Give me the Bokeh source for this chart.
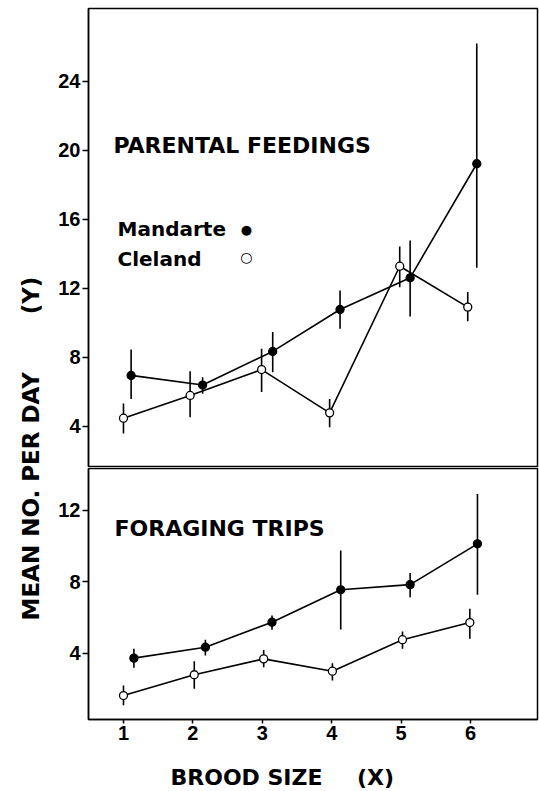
import math
from bokeh.plotting import figure
from bokeh.layouts import row, column
from bokeh.models import Range1d, FixedTicker, Label
from bokeh.embed import file_html
from bokeh.resources import INLINE

# ---------------- data ----------------
brood_ticks = [1, 2, 3, 4, 5, 6]
feed_ticks = [4, 8, 12, 16, 20, 24]
forage_ticks = [4, 8, 12]

# Parental feedings – Mandarte (filled)
feed_m_x = [1.11, 2.14, 3.15, 4.12, 5.13, 6.09]
feed_m = [6.96, 6.40, 8.35, 10.78, 12.62, 19.23]
feed_m_lo = [5.60, 5.90, 7.15, 9.66, 10.38, 13.20]
feed_m_hi = [8.46, 6.86, 9.47, 11.88, 14.78, 26.20]

# Parental feedings – Cleland (open)
feed_c_x = [1.00, 1.96, 2.99, 3.97, 4.98, 5.96]
feed_c = [4.48, 5.80, 7.30, 4.79, 13.29, 10.92]
feed_c_lo = [3.60, 4.54, 6.00, 3.96, 12.07, 10.10]
feed_c_hi = [5.33, 7.20, 8.50, 5.60, 14.43, 11.80]

# Foraging trips – Mandarte (filled)
forage_m_x = [1.15, 2.18, 3.14, 4.13, 5.13, 6.10]
forage_m = [3.74, 4.35, 5.75, 7.56, 7.85, 10.13]
forage_m_lo = [3.20, 3.89, 5.32, 5.34, 7.15, 7.28]
forage_m_hi = [4.26, 4.77, 6.12, 9.75, 8.50, 12.92]

# Foraging trips – Cleland (open)
forage_c_x = [1.00, 2.02, 3.02, 4.01, 5.02, 5.99]
forage_c = [1.65, 2.81, 3.70, 3.01, 4.77, 5.73]
forage_c_lo = [1.10, 2.03, 3.23, 2.49, 4.26, 4.82]
forage_c_hi = [2.21, 3.57, 4.20, 3.46, 5.23, 6.50]

# ---------------- styling ----------------
TITLE_FONT = "DejaVu Sans"
TICK_FONT = "Liberation Sans"
LW = 1.6

x_range = Range1d(0.496, 6.965)


def style_panel(p, yticks):
    p.grid.visible = False
    p.outline_line_color = "black"
    p.outline_line_width = 1.5
    p.background_fill_color = "white"
    p.border_fill_color = "white"
    ax = p.yaxis[0]
    ax.ticker = FixedTicker(ticks=yticks)
    ax.major_tick_out = 6
    ax.major_tick_in = 0
    ax.minor_tick_line_color = None
    ax.axis_line_color = "black"
    ax.axis_line_width = 1.5
    ax.major_tick_line_width = 1.5
    ax.major_label_standoff = 2
    ax.major_label_text_font = TICK_FONT
    ax.major_label_text_font_style = "bold"
    ax.major_label_text_font_size = "20px"
    ax.major_label_text_color = "black"


def draw_series(p, xs, ys, lo, hi, filled):
    p.line(xs, ys, line_color="black", line_width=LW)
    p.segment(x0=xs, y0=lo, x1=xs, y1=hi, line_color="black", line_width=LW)
    p.scatter(xs, ys, size=8, marker="circle", line_color="black",
              line_width=1.3, fill_color="black" if filled else "white")


def add_label(p, text, x, y, size, align="left", angle=0.0, font=TITLE_FONT):
    p.add_layout(Label(x=x, y=y, text=text, text_font=font,
                       text_font_style="bold", text_font_size=size,
                       text_align=align, text_baseline="middle",
                       text_color="black", angle=angle))


def blank_strip(w, h, xr=None):
    f = figure(width=w, height=h,
               x_range=xr if xr is not None else Range1d(0, w),
               y_range=Range1d(0, h),
               x_axis_location=None, y_axis_location=None,
               toolbar_location=None, output_backend="svg", min_border=0)
    f.grid.visible = False
    f.outline_line_color = None
    return f


# ---------------- top panel: parental feedings ----------------
top = figure(width=491, height=467, x_range=x_range,
             y_range=Range1d(1.68, 28.23),
             x_axis_location=None, toolbar_location=None,
             output_backend="svg", min_border_left=40, min_border_right=2,
             min_border_top=8, min_border_bottom=1)
style_panel(top, feed_ticks)
draw_series(top, feed_m_x, feed_m, feed_m_lo, feed_m_hi, True)
draw_series(top, feed_c_x, feed_c, feed_c_lo, feed_c_hi, False)
add_label(top, "PARENTAL FEEDINGS", 0.856, 20.29, "22px")
add_label(top, "Mandarte", 0.914, 15.42, "20px")
add_label(top, "Cleland", 0.914, 13.73, "20px")
add_label(top, "\u25cf", 2.77, 15.42, "13px", align="center")
add_label(top, "\u25cb", 2.77, 13.85, "14px", align="center")

# ---------------- bottom panel: foraging trips ----------------
bot = figure(width=491, height=283, x_range=x_range,
             y_range=Range1d(0.31, 14.34),
             toolbar_location=None, output_backend="svg",
             min_border_left=40, min_border_right=2,
             min_border_top=1, min_border_bottom=31)
style_panel(bot, forage_ticks)
xa = bot.xaxis[0]
xa.ticker = FixedTicker(ticks=brood_ticks)
xa.major_tick_out = 4
xa.major_tick_in = 0
xa.minor_tick_line_color = None
xa.axis_line_color = "black"
xa.axis_line_width = 1.5
xa.major_tick_line_width = 1.5
xa.major_label_standoff = 2
xa.major_label_text_font = TICK_FONT
xa.major_label_text_font_style = "bold"
xa.major_label_text_font_size = "20px"
xa.major_label_text_color = "black"

draw_series(bot, forage_m_x, forage_m, forage_m_lo, forage_m_hi, True)
draw_series(bot, forage_c_x, forage_c, forage_c_lo, forage_c_hi, False)
add_label(bot, "FORAGING TRIPS", 0.87, 10.99, "22px")

# ---------------- x-axis title strip (shares the x scale) ----------------
xlab = blank_strip(491, 41, xr=x_range)
add_label(xlab, "BROOD SIZE", 1.677, 14, "22px")
add_label(xlab, "(X)", 4.63, 14, "22px", align="center")

# ---------------- y-axis title strip ----------------
ylab = blank_strip(48, 791)
add_label(ylab, "MEAN NO. PER DAY", 30, 171, "23px", angle=math.pi / 2)
add_label(ylab, "(Y)", 30, 496, "23px", align="center", angle=math.pi / 2)

layout = row(ylab, column(top, bot, xlab))

open("out.html", "w").write(file_html(layout, INLINE))
